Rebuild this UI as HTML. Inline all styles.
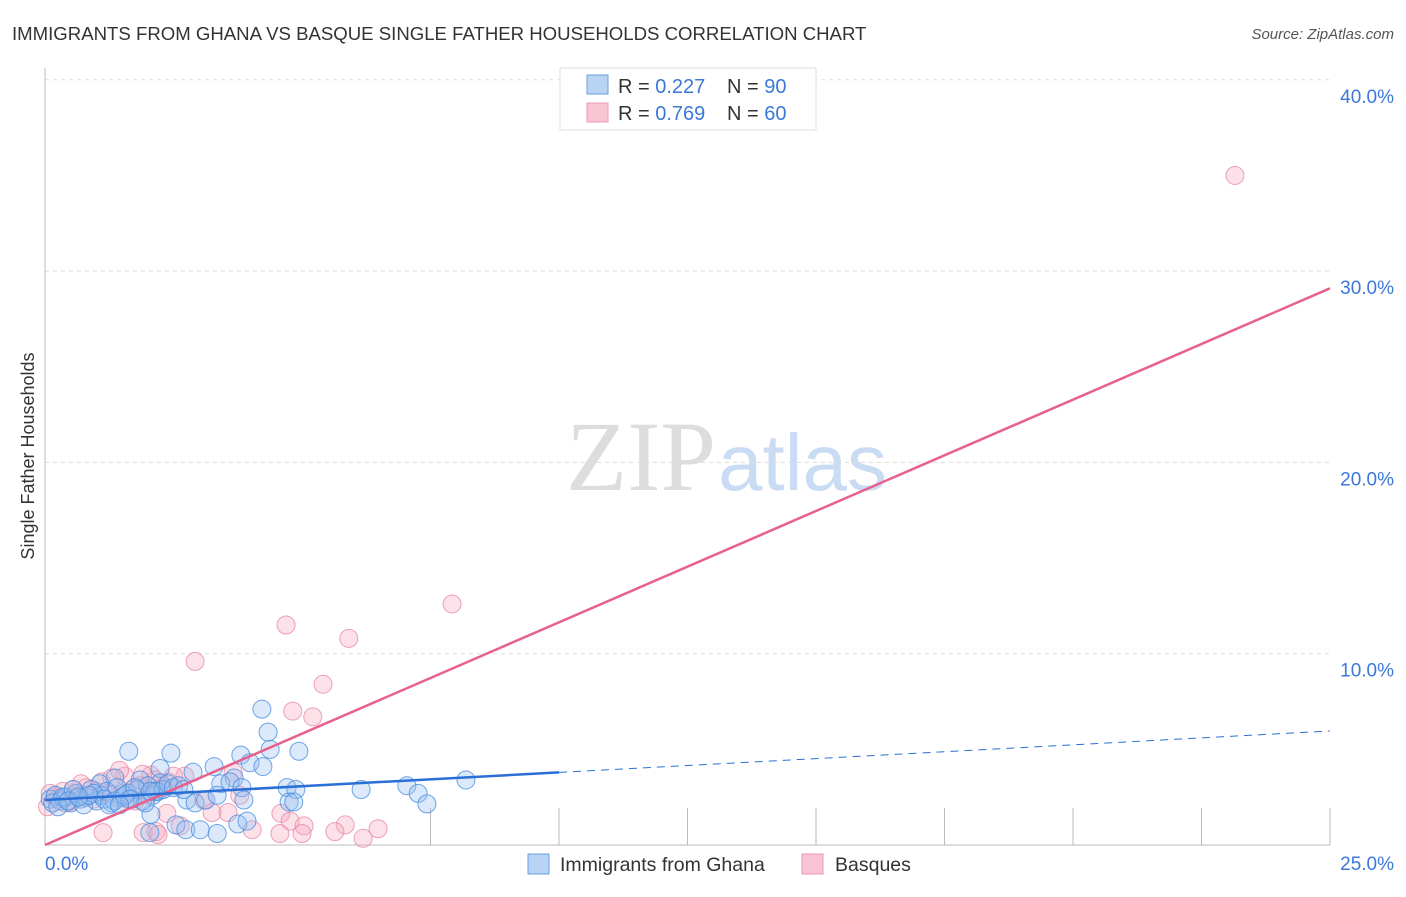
<!DOCTYPE html>
<html><head><meta charset="utf-8"><style>
body{margin:0;background:#fff;font-family:"Liberation Sans",sans-serif}
</style></head><body>
<svg width="1406" height="892" viewBox="0 0 1406 892" font-family="Liberation Sans, sans-serif">
<text x="12" y="40" font-size="18.6" fill="#333">IMMIGRANTS FROM GHANA VS BASQUE SINGLE FATHER HOUSEHOLDS CORRELATION CHART</text>
<text x="1394" y="39" font-size="15" fill="#555" text-anchor="end" font-style="italic">Source: ZipAtlas.com</text>
<text x="716" y="490" font-size="100" fill="#ddd" text-anchor="end" style="font-family:'Liberation Serif',serif">ZIP</text>
<text x="718" y="490" font-size="80" fill="#c9dcf3">atlas</text>
<g id="grid"></g>
<line x1="45" y1="68" x2="45" y2="845" stroke="#bbb"/>
<line x1="45" y1="845" x2="1330" y2="845" stroke="#bbb"/>
<text x="34" y="456" font-size="18" fill="#333" text-anchor="middle" transform="rotate(-90 34 456)">Single Father Households</text>
<g id="pts"></g>
<g id="lines"></g>
<text x="45" y="870" font-size="19" fill="#3b78d8">0.0%</text>
<text x="1394" y="870" font-size="19" fill="#3b78d8" text-anchor="end">25.0%</text>
<g>
<rect x="560" y="68" width="256" height="62" fill="#fff" stroke="#ddd"/>
<rect x="587" y="75" width="21" height="19" fill="#b9d3f5" stroke="#6a9ee0"/>
<rect x="587" y="103" width="21" height="19" fill="#f9c4d4" stroke="#ec98b2"/>
<text x="618" y="93" font-size="20" fill="#333">R = <tspan fill="#3b78d8">0.227</tspan></text>
<text x="727" y="93" font-size="20" fill="#333">N = <tspan fill="#3b78d8">90</tspan></text>
<text x="618" y="120" font-size="20" fill="#333">R = <tspan fill="#3b78d8">0.769</tspan></text>
<text x="727" y="120" font-size="20" fill="#333">N = <tspan fill="#3b78d8">60</tspan></text>
</g>
<g>
<rect x="528" y="854" width="21" height="20" fill="#b9d3f5" stroke="#6a9ee0"/>
<text x="560" y="871" font-size="19.5" fill="#333">Immigrants from Ghana</text>
<rect x="802" y="854" width="21" height="20" fill="#f9c4d4" stroke="#ec98b2"/>
<text x="835" y="871" font-size="19.5" fill="#333">Basques</text>
</g>
</svg>
<script>
const yTicks=[10,20,30,40];
const xTicks=[7.5,10,12.5,15,17.5,20,22.5,25];
const blueX=[1.63,2.45,4.22,4.34,3.81,4.94,4.38,3.29,3.99,4.24,2.24,2.88,3.68,3.42,3.6,3.83,4.71,4.88,4.75,4.84,3.87,6.15,7.04,7.26,7.43,8.19,2.76,2.92,3.13,3.35,2.06,2.55,2.74,3.02,3.35,2.04,3.75,3.93,2.24,1.85,1.36,1.07,
0.1,0.2,0.3,0.4,0.5,0.6,0.7,0.8,0.9,1.0,1.1,1.2,1.3,1.4,1.5,1.6,1.7,1.8,1.9,2.0,2.1,2.2,0.15,0.35,0.55,0.75,0.95,1.15,1.35,1.55,1.75,1.95,2.15,2.3,2.4,2.5,0.25,0.45,0.85,1.25,1.65,2.05,2.6,2.7,0.65,1.45];
const blueY=[4.9,4.8,7.1,5.9,4.7,4.9,5.0,4.1,4.3,4.1,4.0,3.8,3.5,3.2,3.3,3.0,3.0,2.9,2.25,2.25,2.35,2.9,3.1,2.7,2.15,3.4,2.35,2.2,2.35,2.6,1.6,1.05,0.8,0.8,0.6,0.65,1.1,1.25,3.25,3.4,3.5,3.2,
2.4,2.6,2.3,2.5,2.2,2.7,2.4,2.5,2.9,2.3,2.6,2.8,2.2,3.0,2.5,2.7,2.4,2.9,2.3,3.1,2.6,2.8,2.2,2.5,2.9,2.1,2.7,2.4,2.3,2.6,3.0,2.2,2.8,2.9,3.2,3.0,2.0,2.3,2.6,2.1,2.4,2.8,3.1,2.9,2.5,2.1];
const pinkX=[23.15,7.92,4.69,5.91,2.92,5.41,4.82,5.21,2.06,2.72,3.66,3.09,3.25,3.56,4.59,4.77,5.04,5.84,6.48,5.64,4.57,5.0,6.19,4.03,1.13,1.91,2.16,2.2,2.63,2.37,3.79,
0.05,0.2,0.35,0.5,0.65,0.8,0.95,1.1,1.25,1.4,1.55,1.7,1.85,2.0,2.15,2.3,0.1,0.4,0.7,1.0,1.3,1.6,1.9,2.2,2.4,0.25,0.55,1.45,1.75,2.5];
const pinkY=[35.0,12.6,11.5,10.8,9.6,8.4,7.0,6.7,3.65,3.6,3.8,2.35,1.7,1.7,1.65,1.25,1.0,1.05,0.85,0.7,0.6,0.6,0.35,0.8,0.65,0.65,0.7,0.55,1.0,1.65,2.6,
2.0,2.5,2.8,2.3,2.6,3.0,2.4,3.3,2.7,2.5,3.6,2.9,3.1,2.6,3.4,3.0,2.7,2.2,3.2,2.8,3.5,2.4,3.7,2.9,3.3,2.4,2.9,3.9,2.3,3.6];
const blueFit=[2.35,5.96];
const pinkFit=[0,29.1];
const X=v=>45+v*51.4, Y=v=>845-v*19.13;
const NS="http://www.w3.org/2000/svg";
const grid=document.getElementById('grid');
yTicks.forEach(t=>{
 const l=document.createElementNS(NS,'line');
 l.setAttribute('x1',45);l.setAttribute('x2',1330);l.setAttribute('y1',Y(t));l.setAttribute('y2',Y(t));
 l.setAttribute('stroke','#ddd');l.setAttribute('stroke-dasharray','4,4');
 
 
 grid.appendChild(l);
 const tx=document.createElementNS(NS,'text');
 tx.setAttribute('x',1394);tx.setAttribute('y',Y(t)+23);tx.setAttribute('text-anchor','end');
 tx.setAttribute('font-size','19');tx.setAttribute('fill','#3b78d8');tx.textContent=t.toFixed(1)+'%';
 
 
 grid.appendChild(tx);
});
xTicks.forEach(t=>{
 const l=document.createElementNS(NS,'line');
 l.setAttribute('x1',X(t));l.setAttribute('x2',X(t));l.setAttribute('y1',808);l.setAttribute('y2',845);
 l.setAttribute('stroke','#bbb');
 
 
 grid.appendChild(l);
});
const pts=document.getElementById('pts');
function dots(xs,ys,fill,stroke,name){
 xs.forEach((x,i)=>{
  const c=document.createElementNS(NS,'circle');
  c.setAttribute('cx',X(x));c.setAttribute('cy',Y(ys[i]));c.setAttribute('r',9);
  c.setAttribute('fill',fill);c.setAttribute('fill-opacity','0.35');c.setAttribute('stroke',stroke);c.setAttribute('stroke-opacity','0.8');
  
  
  pts.appendChild(c);
 });
}
dots(pinkX,pinkY,'#f5a8c0','#e88aa8','basques-point');
dots(blueX,blueY,'#98bff0','#4a8ee0','ghana-point');
const lines=document.getElementById('lines');
function ln(x1,y1,x2,y2,col,dash,name){
 const l=document.createElementNS(NS,'line');
 l.setAttribute('x1',X(x1));l.setAttribute('y1',Y(y1));l.setAttribute('x2',X(x2));l.setAttribute('y2',Y(y2));
 l.setAttribute('stroke',col);l.setAttribute('stroke-width',dash?1:2.5);if(dash)l.setAttribute('stroke-dasharray','8,6');
 
 
 lines.appendChild(l);
}
const bAt=v=>blueFit[0]+(blueFit[1]-blueFit[0])*v/25;
ln(0,pinkFit[0],25,pinkFit[1],'#e8608c',false,'basques-trend-line');
ln(0,bAt(0),10,bAt(10),'#2a6fd6',false,'ghana-trend-line');
ln(10,bAt(10),25,bAt(25),'#2a6fd6',true,'ghana-trend-extension');
</script>
</body></html>
